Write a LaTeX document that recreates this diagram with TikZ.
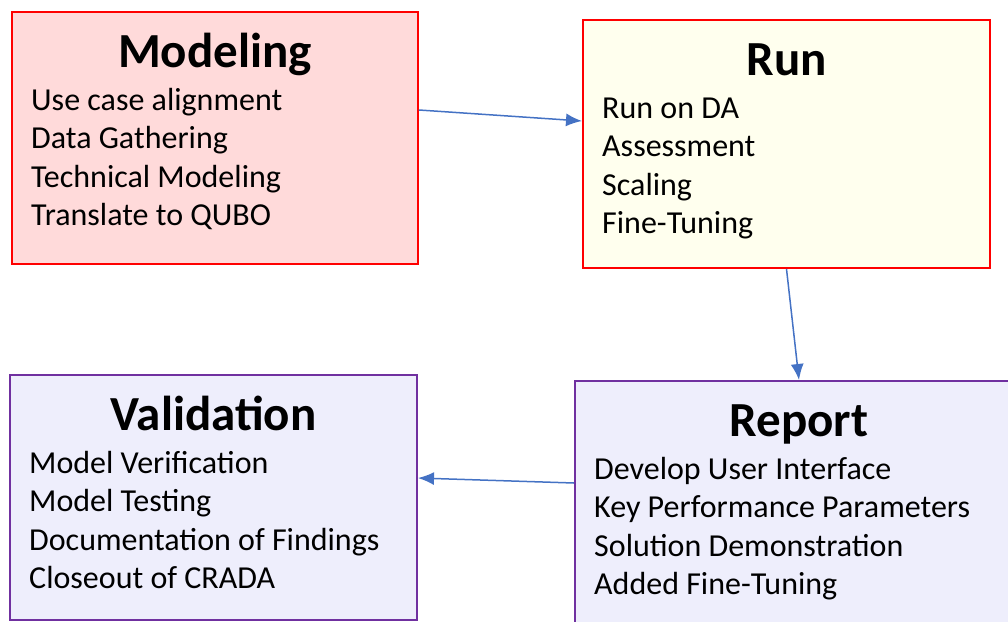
\documentclass[tikz,border=0pt]{standalone}
\usepackage{fontspec}
\setmainfont{Carlito}
\usepackage{xcolor}
\usepackage{tikz}
\usetikzlibrary{arrows.meta, positioning}

\definecolor{redline}{HTML}{FF0000}
\definecolor{purpleline}{HTML}{7030A0}
\definecolor{modfill}{HTML}{FFDADA}
\definecolor{runfill}{HTML}{FFFFEE}
\definecolor{lavender}{HTML}{EEEEFC}
\definecolor{arrowblue}{HTML}{4472C4}

\begin{document}
\begin{tikzpicture}[
    x=1pt, y=1pt,
    node distance=111pt,
    stage/.style={
        rectangle,
        draw,
        line width=2pt,
        minimum width=407pt,
        minimum height=248pt,
        inner sep=0pt
    },
    heading/.style={anchor=base, inner sep=0pt, font=\fontsize{49}{52}\selectfont\bfseries},
    items/.style={anchor=base west, align=left, inner sep=0pt, font=\fontsize{32}{38.5}\selectfont},
    flow/.style={-{Latex[length=16pt,width=13pt]}, draw=arrowblue, line width=1.5pt}
]
\useasboundingbox (0,0) rectangle (1008,-621);

% the four stages
\node[stage, draw=redline, fill=modfill, minimum width=406pt, minimum height=252pt] (modeling) at (215,-138) {};
\node[stage, draw=redline, fill=runfill, right=163pt of modeling, yshift=-6pt] (run) {};
\node[stage, draw=purpleline, fill=lavender, minimum width=448pt, minimum height=246pt,
      below=of run, xshift=12.5pt] (report) {};
\node[stage, draw=purpleline, fill=lavender, minimum height=245pt,
      left=156pt of report, yshift=6.5pt] (validation) {};

% titles and lists (lists sit on their last baseline)
\node[heading] (modeling-t) at ([yshift=-56pt]modeling.north) {Modeling};
\node[items] (modeling-i) at ([xshift=20pt, yshift=-214.5pt]modeling.north west) {Use case alignment\\
Data Gathering\\
Technical Modeling\\
Translate to QUBO};

\node[heading] (run-t) at ([yshift=-56pt]run.north) {Run};
\node[items] (run-i) at ([xshift=20pt, yshift=-214.5pt]run.north west) {Run on DA\\
Assessment\\
Scaling\\
Fine-Tuning};

\node[heading] (report-t) at ([yshift=-56pt]report.north) {Report};
\node[items] (report-i) at ([xshift=20pt, yshift=-214.5pt]report.north west) {Develop User Interface\\
Key Performance Parameters\\
Solution Demonstration\\
Added Fine-Tuning};

\node[heading] (validation-t) at ([yshift=-56pt]validation.north) {Validation};
\node[items] (validation-i) at ([xshift=20pt, yshift=-214.5pt]validation.north west) {Model Verification\\
Model Testing\\
Documentation of Findings\\
Closeout of CRADA};

% connectors
\draw[flow] ([yshift=28pt]modeling.east) -- ([yshift=23pt]run.west);
\draw[flow] (run.south) -- (report.north);
\draw[flow] ([yshift=21pt]report.west) -- ([yshift=19.5pt]validation.east);

\end{tikzpicture}
\end{document}
